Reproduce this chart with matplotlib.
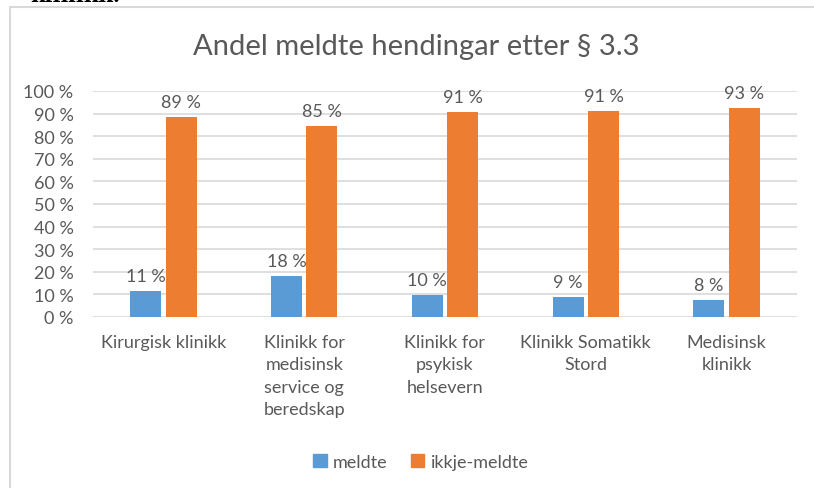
import matplotlib.pyplot as plt
import matplotlib.patches as mpatches
import numpy as np
from matplotlib.ticker import FuncFormatter, MultipleLocator

# Data (share of incidents)
categories = [
    "Kirurgisk klinikk",
    "Klinikk for\nmedisinsk\nservice og\nberedskap",
    "Klinikk for\npsykisk\nhelsevern",
    "Klinikk Somatikk\nStord",
    "Medisinsk\nklinikk",
]
meldte = [0.114, 0.183, 0.097, 0.089, 0.076]
ikkje_meldte = [0.886, 0.847, 0.906, 0.911, 0.926]
series_names = ["meldte", "ikkje-meldte"]

BLUE = "#5B9BD5"
ORANGE = "#ED7D31"
TEXT = "#595959"
GRID = "#D9D9D9"

plt.rcParams["font.family"] = ["Lato", "DejaVu Sans"]

W, H = 814, 489
fig = plt.figure(figsize=(W / 100, H / 100), dpi=100)

# chart frame (cropped screenshot: only left and top edges visible)
fig.add_artist(mpatches.Rectangle((10 / W, -0.1), 1.2, 1 - 8 / H + 0.1,
                                  transform=fig.transFigure, fill=False,
                                  edgecolor=GRID, linewidth=1.5))
# clipped text from the surrounding document
fig.text(30 / W, 1 + 4 / H, "klinikk.", family="DejaVu Serif", fontweight="bold",
         fontsize=15, color="black", va="center")

ax = fig.add_axes([93 / W, 1 - 318 / H, (797 - 93) / W, (318 - 92) / H])

x = np.arange(len(categories))
bw = 0.22
gap = 0.032
b1 = ax.bar(x - (bw + gap) / 2, meldte, bw, color=BLUE, zorder=3)
b2 = ax.bar(x + (bw + gap) / 2, ikkje_meldte, bw, color=ORANGE, zorder=3)

for bars, vals in ((b1, meldte), (b2, ikkje_meldte)):
    for rect, v in zip(bars, vals):
        ax.annotate(f"{round(v * 100)} %", (rect.get_x() + rect.get_width() / 2, v),
                    xytext=(0, 5), textcoords="offset points", ha="center", va="bottom",
                    fontsize=13, color=TEXT)

ax.set_xlim(-0.5, len(categories) - 0.5)
ax.set_ylim(0, 1.0)
ax.yaxis.set_major_locator(MultipleLocator(0.1))
ax.yaxis.set_major_formatter(FuncFormatter(lambda v, p: f"{round(v * 100)} %"))
ax.grid(axis="y", color=GRID, linewidth=1.2, zorder=0)
for s in ax.spines.values():
    s.set_visible(False)
ax.tick_params(axis="both", length=0, labelsize=13, labelcolor=TEXT)
ax.tick_params(axis="y", pad=14)
ax.tick_params(axis="x", pad=12)
ax.set_xticks(x)
ax.set_xticklabels(categories, linespacing=1.5, va="top")

fig.text(416 / W, 1 - 47 / H, "Andel meldte hendingar etter § 3.3", ha="center", va="center",
         fontsize=21, color=TEXT)

handles = [mpatches.Patch(color=BLUE), mpatches.Patch(color=ORANGE)]
fig.legend(handles, series_names, loc="center", bbox_to_anchor=(0.517, 1 - 463 / H),
           ncol=2, frameon=False, fontsize=13, labelcolor=TEXT, handlelength=0.75,
           handleheight=0.75, handletextpad=0.35, columnspacing=1.3)

fig.savefig("out.png", dpi=100)
